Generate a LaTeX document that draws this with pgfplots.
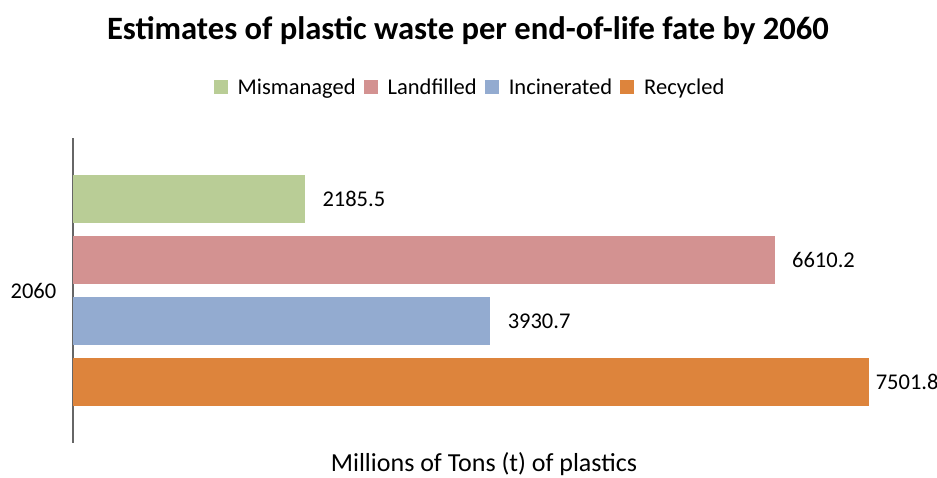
\documentclass[border=0pt]{standalone}
\usepackage{fontspec}
\setmainfont{Carlito}
\usepackage{pgfplots}
\pgfplotsset{compat=1.18}
\definecolor{cMis}{HTML}{B9CD96}
\definecolor{cLand}{HTML}{D39291}
\definecolor{cInc}{HTML}{93ABD0}
\definecolor{cRec}{HTML}{DD843C}
\begin{document}
\begin{tikzpicture}
\begin{axis}[
  scale only axis,
  width=822bp, height=305bp,
  xmin=0, xmax=7744,
  ymin=-2.5, ymax=2.5,
  axis lines*=left,
  x axis line style={draw=none},
  y axis line style={draw=gray!80!black, line width=1.2bp},
  xtick=\empty,
  ytick={0}, yticklabels={2060},
  ytick style={draw=none},
  yticklabel style={font=\fontsize{22.5bp}{26bp}\selectfont, xshift=-9bp},
  /pgf/number format/assume math mode=true,
  /pgf/number format/fixed,
  /pgf/number format/fixed zerofill,
  /pgf/number format/precision=1,
  /pgf/number format/1000 sep={},
  xbar, bar width=0.8, bar shift=0pt,
  clip=false,
  xlabel={Millions of Tons (t) of plastics},
  xlabel style={at={(0.5,-0.069)}, anchor=center, font=\fontsize{26bp}{30bp}\selectfont},
  title={Estimates of plastic waste per end-of-life fate by 2060},
  title style={at={(0.4805,1.334)}, anchor=center, font=\fontsize{32.6bp}{36bp}\selectfont\bfseries},
  nodes near coords,
  nodes near coords style={anchor=west, xshift=14bp, font=\fontsize{22.5bp}{26bp}\selectfont},
  legend columns=4,
  legend style={at={(0.483,1.167)}, anchor=center, draw=none,
    font=\fontsize{22.5bp}{26bp}\selectfont,
    /tikz/every odd column/.append style={column sep=8bp},
    /tikz/every even column/.append style={column sep=6bp}},
  legend image code/.code={\fill[#1] (0bp,-7bp) rectangle (14bp,7bp);},
]
\addplot[fill=cMis, draw=none] coordinates {(2185.5,1.5)};
\addlegendentry{Mismanaged}
\addplot[fill=cLand, draw=none] coordinates {(6610.2,0.5)};
\addlegendentry{Landfilled}
\addplot[fill=cInc, draw=none] coordinates {(3930.7,-0.5)};
\addlegendentry{Incinerated}
\addplot[fill=cRec, draw=none, nodes near coords style={xshift=-11bp}] coordinates {(7501.8,-1.5)};
\addlegendentry{Recycled}
\end{axis}
\pgfresetboundingbox
\path[use as bounding box] (current axis.south west) ++(-73bp,-35bp) rectangle ++(937bp,478bp);
\end{tikzpicture}
\end{document}
